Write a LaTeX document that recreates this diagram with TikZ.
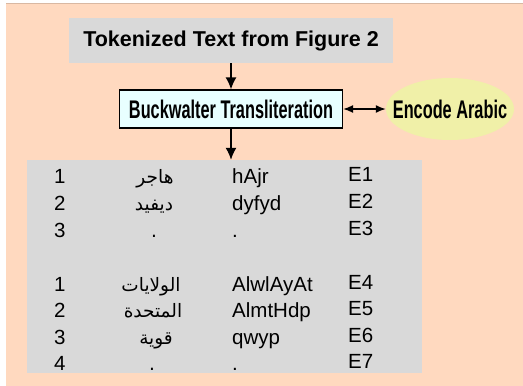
\documentclass[tikz,border=0pt]{standalone}
\usepackage{fontspec}
\setmainfont{Liberation Sans}
\newfontfamily\narrowfont[FakeStretch=0.64]{Liberation Sans}
\newfontfamily\arabicfont[Script=Arabic]{DejaVu Sans}
\TeXXeTstate=1
\usetikzlibrary{arrows.meta}
\usetikzlibrary{shapes.geometric}
\definecolor{peach}{RGB}{255,217,191}
\definecolor{boxgray}{RGB}{217,217,217}
\definecolor{paleblue}{RGB}{232,255,255}
\definecolor{paleyellow}{RGB}{240,240,168}
\tikzset{
	headbox/.style={fill=boxgray,minimum width=324,minimum height=45,inner sep=0,
		font=\fontsize{21.5}{25}\selectfont\bfseries},
	procbox/.style={draw=black,line width=1.2,fill=paleblue,minimum width=223,minimum height=38,inner sep=0,
		font=\fontsize{25.5}{30}\selectfont\narrowfont\bfseries},
	encoval/.style={ellipse,fill=paleyellow,minimum width=128,minimum height=62,inner xsep=-16,inner ysep=0,
		font=\fontsize{25.5}{30}\selectfont\narrowfont\bfseries},
	tablebox/.style={fill=boxgray,minimum width=395,minimum height=213,inner sep=0},
	cell/.style={inner sep=0,font=\fontsize{20.5}{24}\selectfont},
	arcell/.style={inner sep=0,anchor=base,font=\fontsize{18.5}{22}\selectfont\arabicfont},
	flow/.style={line width=1.5,-{Latex[length=12,width=11]}},
	link/.style={line width=1.5,{Latex[length=10,width=8]}-{Latex[length=10,width=8]}}
}
\begin{document}
\begin{tikzpicture}[x=1pt,y=-1pt]
	\useasboundingbox (0,0) rectangle (523,386);
	\fill[peach] (6,3.5) rectangle (523,386);
	\draw[peach!85!black,line width=0.8] (6,3.5) -- (523,3.5);
	%
	\node[headbox] (head) at (231,40.5) {Tokenized Text from Figure 2};
	\node[procbox] (bw) at (231,109) {Buckwalter Transliteration};
	\node[encoval] (enc) at (450,109) {Encode Arabic};
	\node[tablebox] (tbl) at (224.5,266.5) {};
	%
	\draw[flow] (head) -- (bw);
	\draw[flow] (bw.south) -- (bw.south |- tbl.north);
	\draw[link] (bw) -- (enc);
	%
	\node[cell,anchor=base west] (n1) at (54,183) {1};
	\node[cell,anchor=base west] (n2) at (54,210) {2};
	\node[cell,anchor=base west] (n3) at (54,237) {3};
	\node[cell,anchor=base west] (n4) at (54,291) {1};
	\node[cell,anchor=base west] (n5) at (54,317) {2};
	\node[cell,anchor=base west] (n6) at (54,344) {3};
	\node[cell,anchor=base west] (n7) at (54,370) {4};
	%
	\node[arcell] (a1) at (155,183) {\beginR هاجر\endR};
	\node[arcell] (a2) at (154,210) {\beginR ديفيد\endR};
	\node[arcell] (a3) at (154,237) {.};
	\node[arcell] (a4) at (151,291) {\beginR الولايات\endR};
	\node[arcell] (a5) at (153,317) {\beginR المتحدة\endR};
	\node[arcell] (a6) at (156,344) {\beginR قوية\endR};
	\node[arcell] (a7) at (152,370) {.};
	%
	\node[cell,anchor=base west] (t1) at (232,183) {hAjr};
	\node[cell,anchor=base west] (t2) at (232,210) {dyfyd};
	\node[cell,anchor=base west] (t3) at (232,237) {.};
	\node[cell,anchor=base west] (t4) at (232,291) {AlwlAyAt};
	\node[cell,anchor=base west] (t5) at (232,317) {AlmtHdp};
	\node[cell,anchor=base west] (t6) at (232,344) {qwyp};
	\node[cell,anchor=base west] (t7) at (232,370) {.};
	%
	\node[cell,anchor=base west] (e1) at (348,181.5) {E1};
	\node[cell,anchor=base west] (e2) at (348,208.5) {E2};
	\node[cell,anchor=base west] (e3) at (348,235.5) {E3};
	\node[cell,anchor=base west] (e4) at (348,289.5) {E4};
	\node[cell,anchor=base west] (e5) at (348,315.5) {E5};
	\node[cell,anchor=base west] (e6) at (348,342.5) {E6};
	\node[cell,anchor=base west] (e7) at (348,368.5) {E7};
\end{tikzpicture}
\end{document}
